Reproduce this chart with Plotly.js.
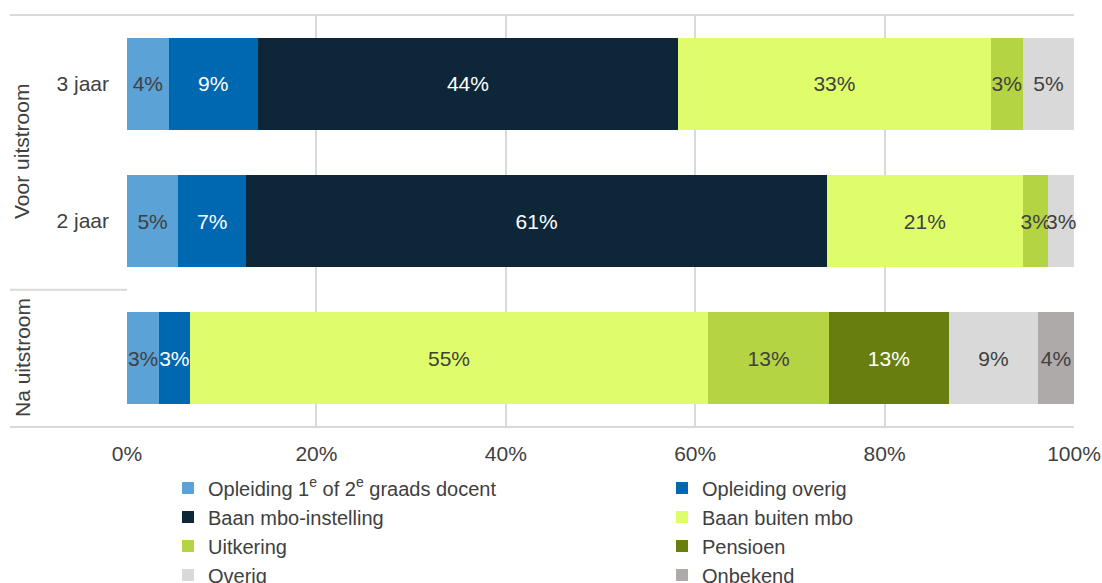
<!DOCTYPE html>
<html>
<head>
<meta charset="utf-8">
<script src="https://cdn.plot.ly/plotly-3.0.1.min.js"></script>
<style>html,body{margin:0;padding:0;background:#fff;}#chart{width:1102px;height:583px;}</style>
</head>
<body>
<div id="chart"></div>
<script>
// Categories (top to bottom)
const categories = ["3 jaar", "2 jaar", "Na uitstroom"];
const categoryTickText = ["3 jaar", "2 jaar", ""];
const groupLabels = ["Voor uitstroom", "Na uitstroom"];
const xTickValues = [0, 20, 40, 60, 80, 100];
const xTickLabels = ["0%", "20%", "40%", "60%", "80%", "100%"];

// Series values in percent, per category [3 jaar, 2 jaar, Na uitstroom]
const seriesNames = [
  "Opleiding 1<sup>e</sup> of 2<sup>e</sup> graads docent",
  "Opleiding overig",
  "Baan mbo-instelling",
  "Baan buiten mbo",
  "Uitkering",
  "Pensioen",
  "Overig",
  "Onbekend"
];
const opleidingDocent   = [4.4, 5.4, 3.4];
const opleidingOverig   = [9.4, 7.2, 3.2];
const baanMbo           = [44.4, 61.3, 0];
const baanBuitenMbo     = [33.0, 20.7, 54.8];
const uitkering         = [3.4, 2.7, 12.7];
const pensioen          = [0, 0, 12.7];
const overig            = [5.4, 2.7, 9.4];
const onbekend          = [0, 0, 3.8];

const seriesValues = [opleidingDocent, opleidingOverig, baanMbo, baanBuitenMbo, uitkering, pensioen, overig, onbekend];
const seriesColors = ["#5BA2D6", "#0067B1", "#0D2739", "#DFFC6A", "#B5D443", "#687F0F", "#D9D9D9", "#AFAAAA"];
const textColors   = ["#404040", "#FFFFFF", "#FFFFFF", "#404040", "#404040", "#FFFFFF", "#404040", "#404040"];
// legend column: left column = "legend", right column = "legend2"
const legendColumn = ["legend", "legend2", "legend", "legend2", "legend", "legend2", "legend", "legend2"];

const FONT = "Liberation Sans, Arial, sans-serif";
const FS = 21;
const LEG_FS = 20;

const traces = seriesNames.map((name, i) => ({
  type: "bar",
  orientation: "h",
  name: name,
  legend: legendColumn[i],
  y: categories,
  x: seriesValues[i],
  marker: {color: seriesColors[i], line: {width: 0}},
  text: seriesValues[i].map(v => v > 0 ? Math.round(v) + "%" : ""),
  textposition: "inside",
  insidetextanchor: "middle",
  textangle: 0,
  constraintext: "none",
  cliponaxis: false,
  textfont: {family: FONT, size: FS, color: textColors[i]},
  hoverinfo: "skip"
}));

// pixel helpers for the plot frame
const W = 1102, H = 583;
const L = 127, R = 1074, T = 15, B = 427;
const px = x => (x - L) / (R - L);
const py = y => (B - y) / (B - T);

const lineStyle = {color: "#D9D9D9", width: 2};
const shapes = [
  {type: "line", xref: "paper", yref: "paper", x0: px(10), x1: 1, y0: 1, y1: 1, line: lineStyle},
  {type: "line", xref: "paper", yref: "paper", x0: px(10), x1: 1, y0: 0, y1: 0, line: lineStyle},
  {type: "line", xref: "paper", yref: "y", x0: px(10), x1: 0, y0: 1.5, y1: 1.5, line: lineStyle}
];

const annotations = [
  {text: groupLabels[0], xref: "paper", yref: "paper", x: px(22), y: py(152), textangle: -90, showarrow: false,
   font: {family: FONT, size: FS, color: "#404040"}, xanchor: "center", yanchor: "middle"},
  {text: groupLabels[1], xref: "paper", yref: "paper", x: px(22), y: py(358), textangle: -90, showarrow: false,
   font: {family: FONT, size: FS, color: "#404040"}, xanchor: "center", yanchor: "middle"}
];

const legendBase = {
  orientation: "v",
  xref: "container", yref: "container",
  xanchor: "left", yanchor: "top",
  font: {family: FONT, size: LEG_FS, color: "#404040"},
  traceorder: "normal",
  bgcolor: "rgba(0,0,0,0)",
  tracegroupgap: 0
};

const layout = {
  width: W, height: H,
  margin: {l: L, r: W - R, t: T, b: H - B, pad: 0, autoexpand: false},
  paper_bgcolor: "#ffffff", plot_bgcolor: "#ffffff",
  barmode: "stack",
  bargap: 0.33,
  showlegend: true,
  font: {family: FONT, size: FS, color: "#404040"},
  xaxis: {
    range: [0, 100.001], tickmode: "array", tickvals: xTickValues, ticktext: xTickLabels,
    showgrid: true, gridcolor: "#D9D9D9", gridwidth: 2,
    zeroline: false, showline: false, ticks: "",
    tickfont: {family: FONT, size: FS, color: "#404040"},
    ticklabelstandoff: 12,
    fixedrange: true
  },
  yaxis: {
    type: "category", autorange: "reversed",
    tickvals: categories, ticktext: categoryTickText,
    showgrid: false, zeroline: false, showline: false, ticks: "",
    tickfont: {family: FONT, size: FS, color: "#404040"},
    ticklabelstandoff: 17,
    fixedrange: true
  },
  legend: Object.assign({}, legendBase, {x: 168 / W, y: 1 - 468.5 / H}),
  legend2: Object.assign({}, legendBase, {x: 662 / W, y: 1 - 468.5 / H}),
  shapes: shapes,
  annotations: annotations
};

Plotly.newPlot("chart", traces, layout, {displayModeBar: false, staticPlot: true});
</script>
</body>
</html>
